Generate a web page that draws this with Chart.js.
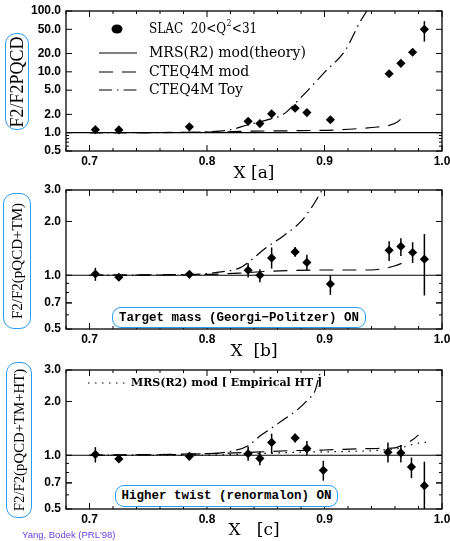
<!DOCTYPE html>
<html>
<head>
<meta charset="utf-8">
<script src="https://cdn.jsdelivr.net/npm/chart.js@4/dist/chart.umd.min.js"></script>
<style>
  body { margin: 0; background: #fff; }
  #wrap { position: relative; width: 450px; height: 541px; overflow: hidden; }
  canvas { position: absolute; left: 0; }
  .ybox { position: absolute; border: 1.5px solid #2b9cf2; border-radius: 11px; box-sizing: border-box; background: #fff; }
  .ybox span { position: absolute; left: 50%; top: 50%; transform: translate(-50%, -50%) rotate(-90deg);
               white-space: nowrap; font-family: 'Liberation Serif'; color: #000; line-height: 1; }
  .note { position: absolute; border: 1.5px solid #2b9cf2; border-radius: 9px; background: #fff;
          font: bold 12.5px 'Liberation Mono'; display: flex; align-items: center; justify-content: center;
          box-sizing: border-box; white-space: nowrap; color: #000; }
  #cite { position: absolute; left: 22px; top: 529px; font: 9.5px 'Liberation Sans'; color: #6a3fe0; white-space: nowrap; }
</style>
</head>
<body>
<div id="wrap">
  <canvas id="panelA" width="450" height="184" style="top:0px"></canvas>
  <canvas id="panelB" width="450" height="178" style="top:184px"></canvas>
  <canvas id="panelC" width="450" height="179" style="top:362px"></canvas>

  <div class="ybox" style="left:5px;top:33px;width:24px;height:97px"><span style="font-size:18px">F2/F2PQCD</span></div>
  <div class="ybox" style="left:3px;top:193px;width:28px;height:136px"><span style="font-size:15px">F2/F2(pQCD+TM)</span></div>
  <div class="ybox" style="left:6px;top:362px;width:26px;height:156px"><span style="font-size:14.8px">F2/F2(pQCD+TM+HT)</span></div>

  <div class="note" style="left:112px;top:307px;width:254px;height:21px">Target mass (Georgi&minus;Politzer) ON</div>
  <div class="note" style="left:115px;top:485px;width:223px;height:22px">Higher twist (renormalon) ON</div>
  <div id="cite">Yang, Bodek (PRL'98)</div>
</div>

<script>
// SLAC data, x bins
const xSlac  = [0.705, 0.725, 0.785, 0.835, 0.845, 0.855, 0.875, 0.885, 0.905, 0.955, 0.965, 0.975, 0.985];
const xSlacC = [0.705, 0.725, 0.785, 0.835, 0.845, 0.855, 0.875, 0.885, 0.899, 0.954, 0.965, 0.974, 0.985];

// [a] F2 / F2 pQCD
const slacA   = [1.12, 1.11, 1.25, 1.54, 1.41, 2.04, 2.52, 2.14, 1.63, 9.3, 13.8, 21.0, 50.0];
const slacALo = [1.10, 1.09, 1.23, 1.50, 1.37, 2.00, 2.46, 2.10, 1.60, 9.1, 13.5, 20.4, 31.4];
const slacAHi = [1.14, 1.13, 1.27, 1.58, 1.45, 2.08, 2.58, 2.18, 1.66, 9.5, 14.1, 21.6, 68.0];

// [b] F2 / F2 (pQCD+TM)
const slacB   = [1.016, 0.974, 1.012, 1.066, 1.00, 1.25, 1.35, 1.18, 0.893, 1.38, 1.45, 1.34, 1.23];
const slacBLo = [0.93, 0.95, 0.985, 0.97, 0.913, 1.09, 1.27, 1.06, 0.776, 1.20, 1.28, 1.17, 0.77];
const slacBHi = [1.10, 1.00, 1.04, 1.167, 1.08, 1.43, 1.44, 1.30, 1.00, 1.55, 1.61, 1.53, 1.70];

// [c] F2 / F2 (pQCD+TM+HT)
const slacC   = [1.01, 0.953, 0.986, 1.02, 0.96, 1.18, 1.25, 1.09, 0.823, 1.04, 1.03, 0.86, 0.675];
const slacCLo = [0.91, 0.925, 0.96, 0.93, 0.88, 1.02, 1.18, 1.00, 0.72, 0.91, 0.91, 0.745, 0.50];
const slacCHi = [1.11, 0.98, 1.01, 1.12, 1.05, 1.32, 1.32, 1.20, 0.93, 1.18, 1.14, 0.97, 0.92];

// MRS(R2) mod (theory) = reference line
const theoryX = [0.68, 1.0];
const theoryY = [1.0, 1.0];

// CTEQ4M mod (dashed)
const modXA = [0.70, 0.80, 0.84, 0.88, 0.91, 0.93, 0.945, 0.955, 0.962, 0.970];
const modYA = [1.00, 1.02, 1.06, 1.08, 1.11, 1.17, 1.24, 1.32, 1.50, 2.10];
const modXB = [0.70, 0.80, 0.83, 0.85, 0.90, 0.94, 0.95, 0.96, 0.969];
const modYB = [1.00, 1.01, 1.03, 1.05, 1.07, 1.07, 1.09, 1.13, 1.19];
const modXC = [0.70, 0.80, 0.84, 0.87, 0.90, 0.94, 0.96, 0.965, 0.975, 0.98];
const modYC = [1.00, 1.02, 1.04, 1.06, 1.07, 1.09, 1.10, 1.13, 1.22, 1.30];

// CTEQ4M Toy (dash-dot)
const toyXA = [0.70, 0.78, 0.80, 0.82, 0.835, 0.855, 0.865, 0.88, 0.90, 0.918, 0.93, 0.936];
const toyYA = [1.00, 1.01, 1.03, 1.12, 1.35, 1.70, 2.00, 3.80, 9.80, 23.0, 65.0, 100.0];
const toyXB = [0.70, 0.78, 0.80, 0.81, 0.828, 0.835, 0.85, 0.865, 0.88, 0.89, 0.898];
const toyYB = [1.00, 1.01, 1.02, 1.04, 1.10, 1.18, 1.42, 1.66, 2.00, 2.45, 3.00];
const toyXC = [0.70, 0.80, 0.82, 0.835, 0.845, 0.855, 0.865, 0.877, 0.886, 0.892, 0.895, 0.897];
const toyYC = [1.00, 1.02, 1.05, 1.13, 1.28, 1.42, 1.58, 1.80, 2.05, 2.30, 2.70, 3.00];

// MRS(R2) mod [Empirical HT] (dotted), panel c only
const htXC = [0.70, 0.80, 0.84, 0.88, 0.92, 0.95, 0.965, 0.975, 0.985, 0.99];
const htYC = [1.00, 1.00, 1.02, 1.04, 1.05, 1.07, 1.10, 1.15, 1.18, 1.18];

// axis ticks
const xTicks = [0.7, 0.8, 0.9, 1.0];
const yTicksA = [0.5, 1, 2, 5, 10, 20, 50, 100];
const yTicksBC = [0.5, 0.7, 1, 2, 3];
const yMinor = [0.6, 0.7, 0.8, 0.9];

const pts = (xs, ys) => xs.map((x, i) => ({ x: x, y: ys[i] }));

const DASH = [14, 9];
const DASHDOT = [13, 5, 1.5, 5];
const DOT = [1.5, 5.5];

function curve(xs, ys, dash) {
    return {
        data: pts(xs, ys), showLine: true, pointRadius: 0, borderColor: '#000',
        borderWidth: 1.2, borderDash: dash, cubicInterpolationMode: 'monotone', fill: false
    };
}

function slac(xs, ys, lo, hi) {
    return {
        data: pts(xs, ys), showLine: false, pointStyle: 'rectRot', pointRadius: 4.6,
        backgroundColor: '#000', borderColor: '#000', borderWidth: 0, errLo: lo, errHi: hi
    };
}

// frame, inward ticks, error bars, legend text
const framePlugin = {
    id: 'frame',
    afterDatasetsDraw(chart, args, opts) {
        const { ctx, chartArea: a } = chart;
        const x = chart.scales.x, y = chart.scales.y;
        ctx.save();
        ctx.strokeStyle = '#000';
        ctx.lineWidth = 1.5;
        chart.data.datasets.forEach((ds, i) => {
            if (!ds.errLo) return;
            chart.getDatasetMeta(i).data.forEach((p, j) => {
                const y1 = Math.min(y.getPixelForValue(ds.errLo[j]), a.bottom);
                const y2 = Math.max(y.getPixelForValue(ds.errHi[j]), a.top);
                ctx.beginPath(); ctx.moveTo(p.x, y1); ctx.lineTo(p.x, y2); ctx.stroke();
            });
        });

        ctx.lineWidth = 1.3;
        ctx.strokeRect(a.left, a.top, a.right - a.left, a.bottom - a.top);
        ctx.lineWidth = 1;
        const tick = (x1, y1, x2, y2) => { ctx.beginPath(); ctx.moveTo(x1, y1); ctx.lineTo(x2, y2); ctx.stroke(); };
        for (let k = 0; k <= 16; k++) {
            const v = 0.68 + k * 0.02;
            const px = x.getPixelForValue(v);
            const len = Math.abs(v * 10 - Math.round(v * 10)) < 1e-6 ? 6 : 3;
            tick(px, a.bottom, px, a.bottom - len);
            tick(px, a.top, px, a.top + len);
        }
        const ymaj = opts.yMajor || [];
        ymaj.concat(yMinor).forEach(v => {
            const py = y.getPixelForValue(v);
            const len = ymaj.includes(v) ? 6 : 3;
            tick(a.left, py, a.left + len, py);
            tick(a.right, py, a.right - len, py);
        });

        (opts.items || []).forEach(it => {
            ctx.fillStyle = '#000';
            ctx.lineWidth = 1.2;
            if (it.dot) {
                ctx.beginPath(); ctx.ellipse(it.dot, it.y, 5.5, 4.5, 0, 0, Math.PI * 2); ctx.fill();
            } else {
                ctx.setLineDash(it.dash);
                tick(it.x1, it.y, it.x2, it.y);
                ctx.setLineDash([]);
            }
            ctx.save();
            ctx.translate(it.tx, it.y);
            ctx.scale(it.sx || 1, 1);
            ctx.textBaseline = 'middle';
            let tx = 0;
            it.text.forEach(part => {
                if (typeof part === 'string') {
                    ctx.font = it.font;
                    ctx.fillText(part, tx, 0);
                    tx += ctx.measureText(part).width;
                } else {
                    ctx.font = it.supFont;
                    ctx.fillText(part.sup, tx + 0.5, -5);
                    tx += ctx.measureText(part.sup).width + 1;
                }
            });
            ctx.restore();
        });
        ctx.restore();
    }
};

function makePanel(id, datasets, yMin, yMax, yTicks, title, padTop, xHeight, items) {
    return new Chart(document.getElementById(id), {
        type: 'scatter',
        data: { datasets: datasets },
        plugins: [framePlugin],
        options: {
            responsive: false,
            animation: false,
            devicePixelRatio: 1,
            layout: { padding: { top: padTop, right: 8, left: 0, bottom: 0 } },
            plugins: {
                legend: { display: false },
                tooltip: { enabled: false },
                frame: { yMajor: yTicks, items: items }
            },
            scales: {
                x: {
                    type: 'linear', min: 0.68, max: 1.0,
                    grid: { display: false, drawTicks: false }, border: { display: false },
                    afterBuildTicks: s => { s.ticks = xTicks.map(v => ({ value: v })); },
                    afterFit: s => { s.height = xHeight; s.paddingLeft = 0; s.paddingRight = 0; },
                    ticks: {
                        callback: v => v.toFixed(1), color: '#000', padding: 3,
                        maxRotation: 0, autoSkip: false,
                        font: { family: 'Liberation Sans', size: 12, weight: 'bold' }
                    },
                    title: {
                        display: true, text: title, color: '#000', padding: 0,
                        font: { family: 'DejaVu Serif', size: 17, lineHeight: 1.2 }
                    }
                },
                y: {
                    type: 'logarithmic', min: yMin, max: yMax,
                    grid: { display: false, drawTicks: false }, border: { display: false },
                    afterBuildTicks: s => { s.ticks = yTicks.map(v => ({ value: v })); },
                    afterFit: s => { s.width = 66; s.paddingTop = 0; s.paddingBottom = 0; },
                    ticks: {
                        callback: v => Number(v).toFixed(1), color: '#000', padding: 5, autoSkip: false,
                        font: { family: 'Liberation Sans', size: 12, weight: 'bold' }
                    }
                }
            }
        }
    });
}

const legendFont = '14px "DejaVu Serif"';

makePanel('panelA', [
    curve(theoryX, theoryY, []),
    curve(modXA, modYA, DASH),
    curve(toyXA, toyYA, DASHDOT),
    slac(xSlac, slacA, slacALo, slacAHi)
], 0.5, 100, yTicksA, 'X [a]', 11, 33, [
    { dot: 117, y: 29, tx: 149, sx: 0.86, font: legendFont, supFont: '9px "DejaVu Serif"', text: ['SLAC  20<Q', { sup: '2' }, '<31'] },
    { x1: 99, x2: 137, y: 53, dash: [], tx: 149, font: legendFont, text: ['MRS(R2) mod(theory)'] },
    { x1: 99, x2: 137, y: 72, dash: DASH, tx: 149, font: legendFont, text: ['CTEQ4M mod'] },
    { x1: 99, x2: 137, y: 90, dash: DASHDOT, tx: 149, font: legendFont, text: ['CTEQ4M Toy'] }
]);

makePanel('panelB', [
    curve(theoryX, theoryY, []),
    curve(modXB, modYB, DASH),
    curve(toyXB, toyYB, DASHDOT),
    slac(xSlac, slacB, slacBLo, slacBHi)
], 0.5, 3, yTicksBC, 'X  [b]', 6, 33, []);

makePanel('panelC', [
    curve(theoryX, theoryY, []),
    curve(modXC, modYC, DASH),
    curve(toyXC, toyYC, DASHDOT),
    curve(htXC, htYC, DOT),
    slac(xSlacC, slacC, slacCLo, slacCHi)
], 0.5, 3, yTicksBC, 'X   [c]', 8, 32, [
    { x1: 88, x2: 127, y: 21, dash: DOT, tx: 131, font: 'bold 11px "DejaVu Serif"', text: ['MRS(R2) mod [ Empirical HT ]'] }
]);
</script>
</body>
</html>
